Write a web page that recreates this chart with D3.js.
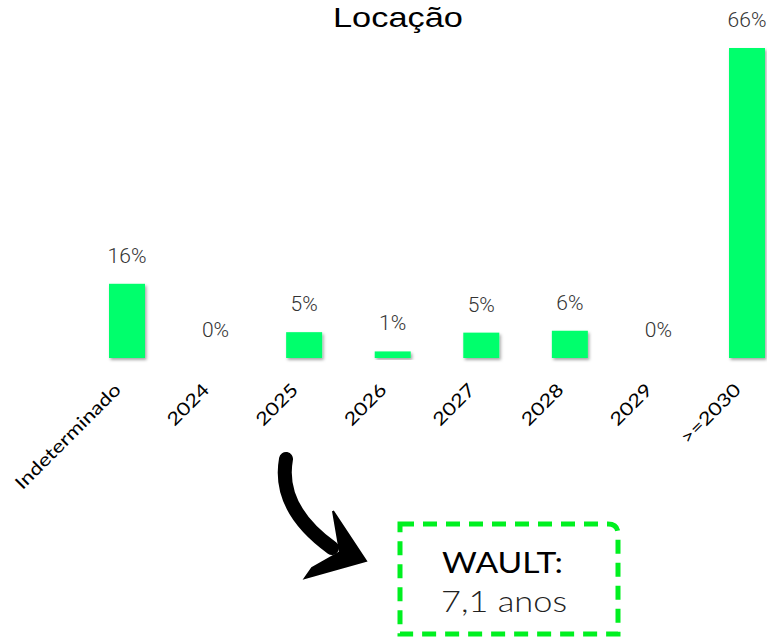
<!DOCTYPE html>
<html><head><meta charset="utf-8">
<script src="https://cdn.jsdelivr.net/npm/d3@7/dist/d3.min.js"></script>
<style>html,body{margin:0;padding:0;background:#fff;}svg{display:block;}</style>
</head><body>
<svg id="chart" width="767" height="637"></svg>
<script>
const categories = ["Indeterminado","2024","2025","2026","2027","2028","2029",">=2030"];
const values = [15.8,0,5.5,1.4,5.4,5.8,0,66];
const valueLabels = ["16%","0%","5%","1%","5%","6%","0%","66%"];
const chartTitle = "Locação";
const waultLines = ["WAULT:","7,1 anos"];

const svg = d3.select("#chart");
const defs = svg.append("defs");
const f = defs.append("filter").attr("id","sh").attr("x","-20%").attr("y","-20%").attr("width","150%").attr("height","150%");
f.append("feDropShadow").attr("dx",1.5).attr("dy",2).attr("stdDeviation",1.8).attr("flood-color","#000").attr("flood-opacity",0.35);

const x = d3.scalePoint().domain(categories).range([127,747]);
const bw = 36;
const y = d3.scaleLinear().domain([0,66]).range([358,48]);

svg.append("text").attr("x",333).attr("y",27).attr("textLength",130).attr("lengthAdjust","spacingAndGlyphs")
  .attr("font-family","Liberation Sans, Arial, sans-serif").attr("font-size",28).attr("fill","#000").text(chartTitle);

const data = categories.map((c,i)=>({c, v:values[i], l:valueLabels[i]}));

svg.selectAll("rect.bar").data(data.filter(d=>d.v>0)).join("rect").attr("class","bar")
  .attr("x",d=>x(d.c)-bw/2).attr("width",bw)
  .attr("y",d=>y(d.v)).attr("height",d=>y(0)-y(d.v))
  .attr("fill","#00FF6C").attr("filter","url(#sh)");

svg.selectAll("text.val").data(data).join("text").attr("class","val")
  .attr("x",d=>x(d.c)).attr("y",d=>y(d.v)-21).attr("text-anchor","middle")
  .attr("font-family","Roboto, sans-serif").attr("font-weight",300).attr("font-size",21).attr("fill","#333")
  .text(d=>d.l);

svg.selectAll("text.cat").data(categories).join("text").attr("class","cat")
  .attr("transform",d=>`translate(${x(d)-5},${391}) rotate(-45) scale(1.22,1)`)
  .attr("text-anchor","end")
  .attr("font-family","Lato, sans-serif").attr("font-size",18).attr("fill","#000")
  .text(d=>d);

// arrow
const arrow = svg.append("g").attr("fill","#000").attr("stroke","#000");
arrow.append("path").attr("d","M286,459 C280,492 296,522 332,548").attr("fill","none").attr("stroke-width",14).attr("stroke-linecap","round");
arrow.append("path").attr("d","M333,511 L366,561 L305,578 L312,568 L340,552 Z").attr("stroke-width",2);

// WAULT box
svg.append("path").attr("d","M400,524 L608,524 Q618,524 618,534 L618,634 L400,634 Z")
  .attr("fill","none").attr("stroke","#00F020").attr("stroke-width",5).attr("stroke-dasharray","14,9");
svg.append("text").attr("x",442).attr("y",573).attr("textLength",121).attr("lengthAdjust","spacingAndGlyphs")
  .attr("font-family","Lato, sans-serif").attr("font-size",29).attr("fill","#000").text(waultLines[0]);
svg.append("text").attr("x",441).attr("y",612).attr("textLength",126).attr("lengthAdjust","spacingAndGlyphs")
  .attr("font-family","Lato, sans-serif").attr("font-weight",300).attr("font-size",29).attr("fill","#222").text(waultLines[1]);
</script>
</body></html>
